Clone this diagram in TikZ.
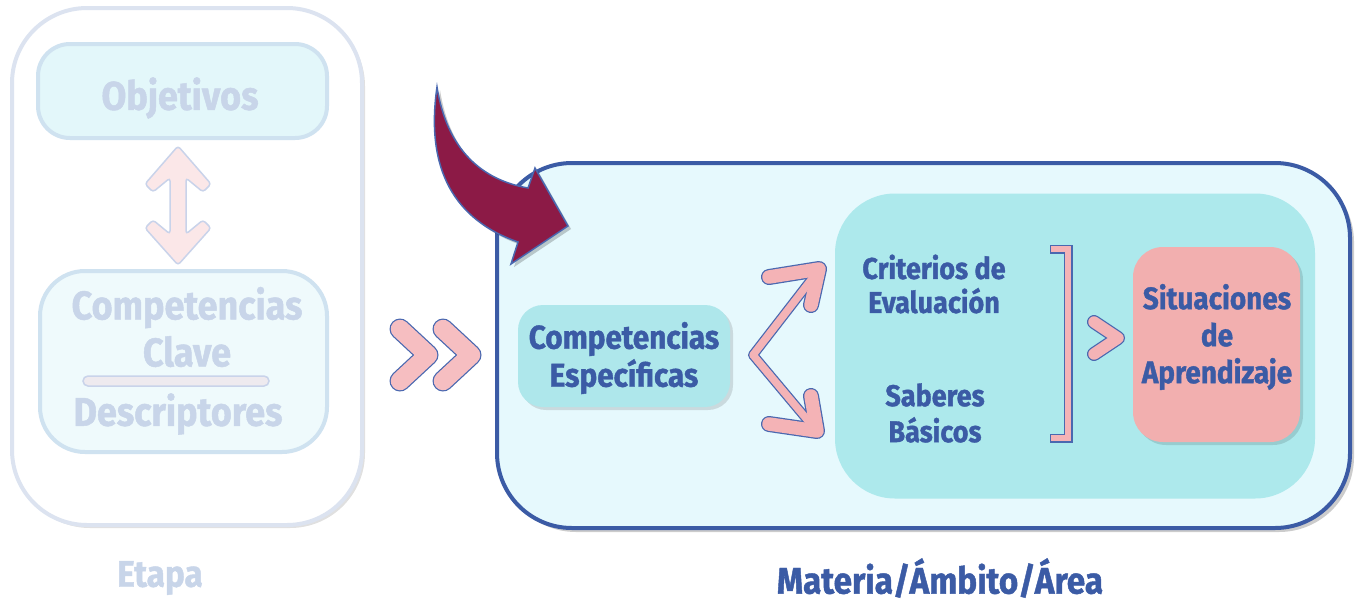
\documentclass[tikz,border=0pt]{standalone}
\usepackage{fontspec}
\setmainfont[FakeStretch=0.9, BoldFeatures={FakeBold=1.2}]{Fira Sans}
\usetikzlibrary{shadows}
\definecolor{tblue}{HTML}{3B5BA5}
\definecolor{fadetxt}{HTML}{C8D5E9}
\definecolor{fadeline}{HTML}{DCE3F0}
\definecolor{objfill}{HTML}{E3F7FA}
\definecolor{objline}{HTML}{CFE2F0}
\definecolor{ccfill}{HTML}{EFFAFC}
\definecolor{mainfill}{HTML}{E6F9FD}
\definecolor{mainline}{HTML}{3B5BA5}
\definecolor{turq}{HTML}{ADE9EC}
\definecolor{espfill}{HTML}{AEE7EB}
\definecolor{sitfill}{HTML}{F2AFAF}
\definecolor{maroon}{HTML}{8C1A46}
\definecolor{pinkc}{HTML}{F4B3B6}
\definecolor{pinkfade}{HTML}{FBE7E8}
\definecolor{outl}{HTML}{4A68B0}
\definecolor{outlfade}{HTML}{C9D3EA}
\definecolor{barfill}{HTML}{EEEAEF}
\begin{document}
\begin{tikzpicture}[x=1pt,y=-1pt,
  lbl/.style={font=\bfseries, align=center, text=tblue, inner sep=0},
  flbl/.style={font=\bfseries, align=center, text=fadetxt, inner sep=0},
  softshadow/.style={drop shadow={shadow xshift=3pt, shadow yshift=-3pt, opacity=0.12, fill=black}},
  pinkO/.style={draw=outl, line width=#1},
  pinkI/.style={draw=pinkc, line width=#1}
]
\useasboundingbox (0,0) rectangle (1359,603);
% ---------- Etapa (faded) ----------
\node[draw=fadeline, line width=4, fill=white, rounded corners=75, minimum width=350, minimum height=517, softshadow] (etapa) at (187,266.5) {};
\node[draw=objline, line width=4, fill=objfill, rounded corners=32, minimum width=289, minimum height=94] (objbox) at (182.5,91) {};
\node[flbl, font=\bfseries\fontsize{40}{46}\selectfont] (objtxt) at (180,98) {Objetivos};
\node[draw=objline, line width=4, fill=ccfill, rounded corners=45, minimum width=287, minimum height=181] (ccbox) at (183.5,361.5) {};
\node[flbl, font=\bfseries\fontsize{40}{47}\selectfont] (cctxt) at (187,327) {Competencias\\Clave};
\node[draw=outlfade, line width=1.5, fill=barfill, rounded corners=5, minimum width=186, minimum height=10, inner sep=0] (bar) at (176,381) {};
\node[flbl, font=\bfseries\fontsize{40}{46}\selectfont] (desc) at (178,414) {Descriptores};
\fill[pinkfade, draw=outlfade, line width=1.5, rounded corners=3]
  (178,146) -- (211,184) -- (203,192) -- (186,178) -- (186,234) -- (203,220) -- (211,228)
  -- (178,265) -- (145,228) -- (153,220) -- (170,234) -- (170,178) -- (153,192) -- (145,184) -- cycle;
\node[flbl, font=\bfseries\fontsize{37}{40}\selectfont] (etapalbl) at (160,578) {Etapa};
% ---------- double chevron ----------
\foreach \dx in {0,43} {
  \draw[pinkO=21, line cap=round, line join=round] (400+\dx,329) -- (428+\dx,355) -- (400+\dx,381);
  \draw[pinkI=18.5, draw=pinkc!85!white, line cap=round, line join=round] (400+\dx,329) -- (428+\dx,355) -- (400+\dx,381);
}
% ---------- Materia box ----------
\node[draw=mainline, line width=4, fill=mainfill, rounded corners=75, minimum width=853, minimum height=365, drop shadow={shadow xshift=4pt, shadow yshift=-4pt, opacity=0.2, fill=black}] (main) at (923.5,345.5) {};
\node[fill=turq, rounded corners=60, minimum width=480, minimum height=305] (crit) at (1075,346) {};
\node[fill=espfill, rounded corners=25, minimum width=212, minimum height=102, softshadow] (espbox) at (624,356) {};
\node[lbl, font=\bfseries\fontsize{33}{38}\selectfont] (esptxt) at (624,358) {Competencias\\Específicas};
\node[lbl, font=\bfseries\fontsize{30}{34}\selectfont] (crittxt) at (934,284) {Criterios de\\Evaluación};
\node[lbl, font=\bfseries\fontsize{30}{36}\selectfont] (sabtxt) at (935,413) {Saberes\\Básicos};
\node[fill=sitfill, rounded corners=30, minimum width=167, minimum height=195, softshadow] (sitbox) at (1216.5,344.5) {};
\node[lbl, font=\bfseries\fontsize{31}{37}\selectfont] (sittxt) at (1217,337) {Situaciones\\de\\Aprendizaje};
\node[lbl, font=\bfseries\fontsize{37}{40}\selectfont] (matlbl) at (940,578) {Materia/Ámbito/Área};
% ---------- fork arrows ----------
\draw[pinkO=10, line join=round, line cap=round] (818,271) -- (753,355) -- (815,429);
\draw[pinkO=16, line join=round, line cap=round] (769,277) -- (819,269) -- (811,305);
\draw[pinkO=16, line join=round, line cap=round] (769,424) -- (817,431) -- (811,396);
\draw[pinkI=7.5, line join=round, line cap=round] (818,271) -- (753,355) -- (815,429);
\draw[pinkI=13.5, line join=round, line cap=round] (769,277) -- (819,269) -- (811,305);
\draw[pinkI=13.5, line join=round, line cap=round] (769,424) -- (817,431) -- (811,396);
% ---------- bracket ----------
\draw[pinkO=9, line join=miter, line cap=rect] (1054,249) -- (1068,249) -- (1068,438) -- (1054,438);
\draw[pinkI=6.5, line join=miter, line cap=rect] (1054,249) -- (1068,249) -- (1068,438) -- (1054,438);
% ---------- small chevron ----------
\draw[pinkO=14, line join=round, line cap=round] (1094,322) -- (1118,338) -- (1094,354);
\draw[pinkI=11.5, line join=round, line cap=round] (1094,322) -- (1118,338) -- (1094,354);
% ---------- curved maroon arrow ----------
\fill[maroon, draw=outl, line width=1.5, drop shadow={shadow xshift=3pt, shadow yshift=-3pt, opacity=0.2, fill=black}]
  (437,87) .. controls (447,150) and (482,180) .. (528,188) -- (535,168) -- (568,226) -- (511,264) -- (518,242)
  .. controls (455,220) and (425,170) .. (437,87) -- cycle;
\end{tikzpicture}
\end{document}
